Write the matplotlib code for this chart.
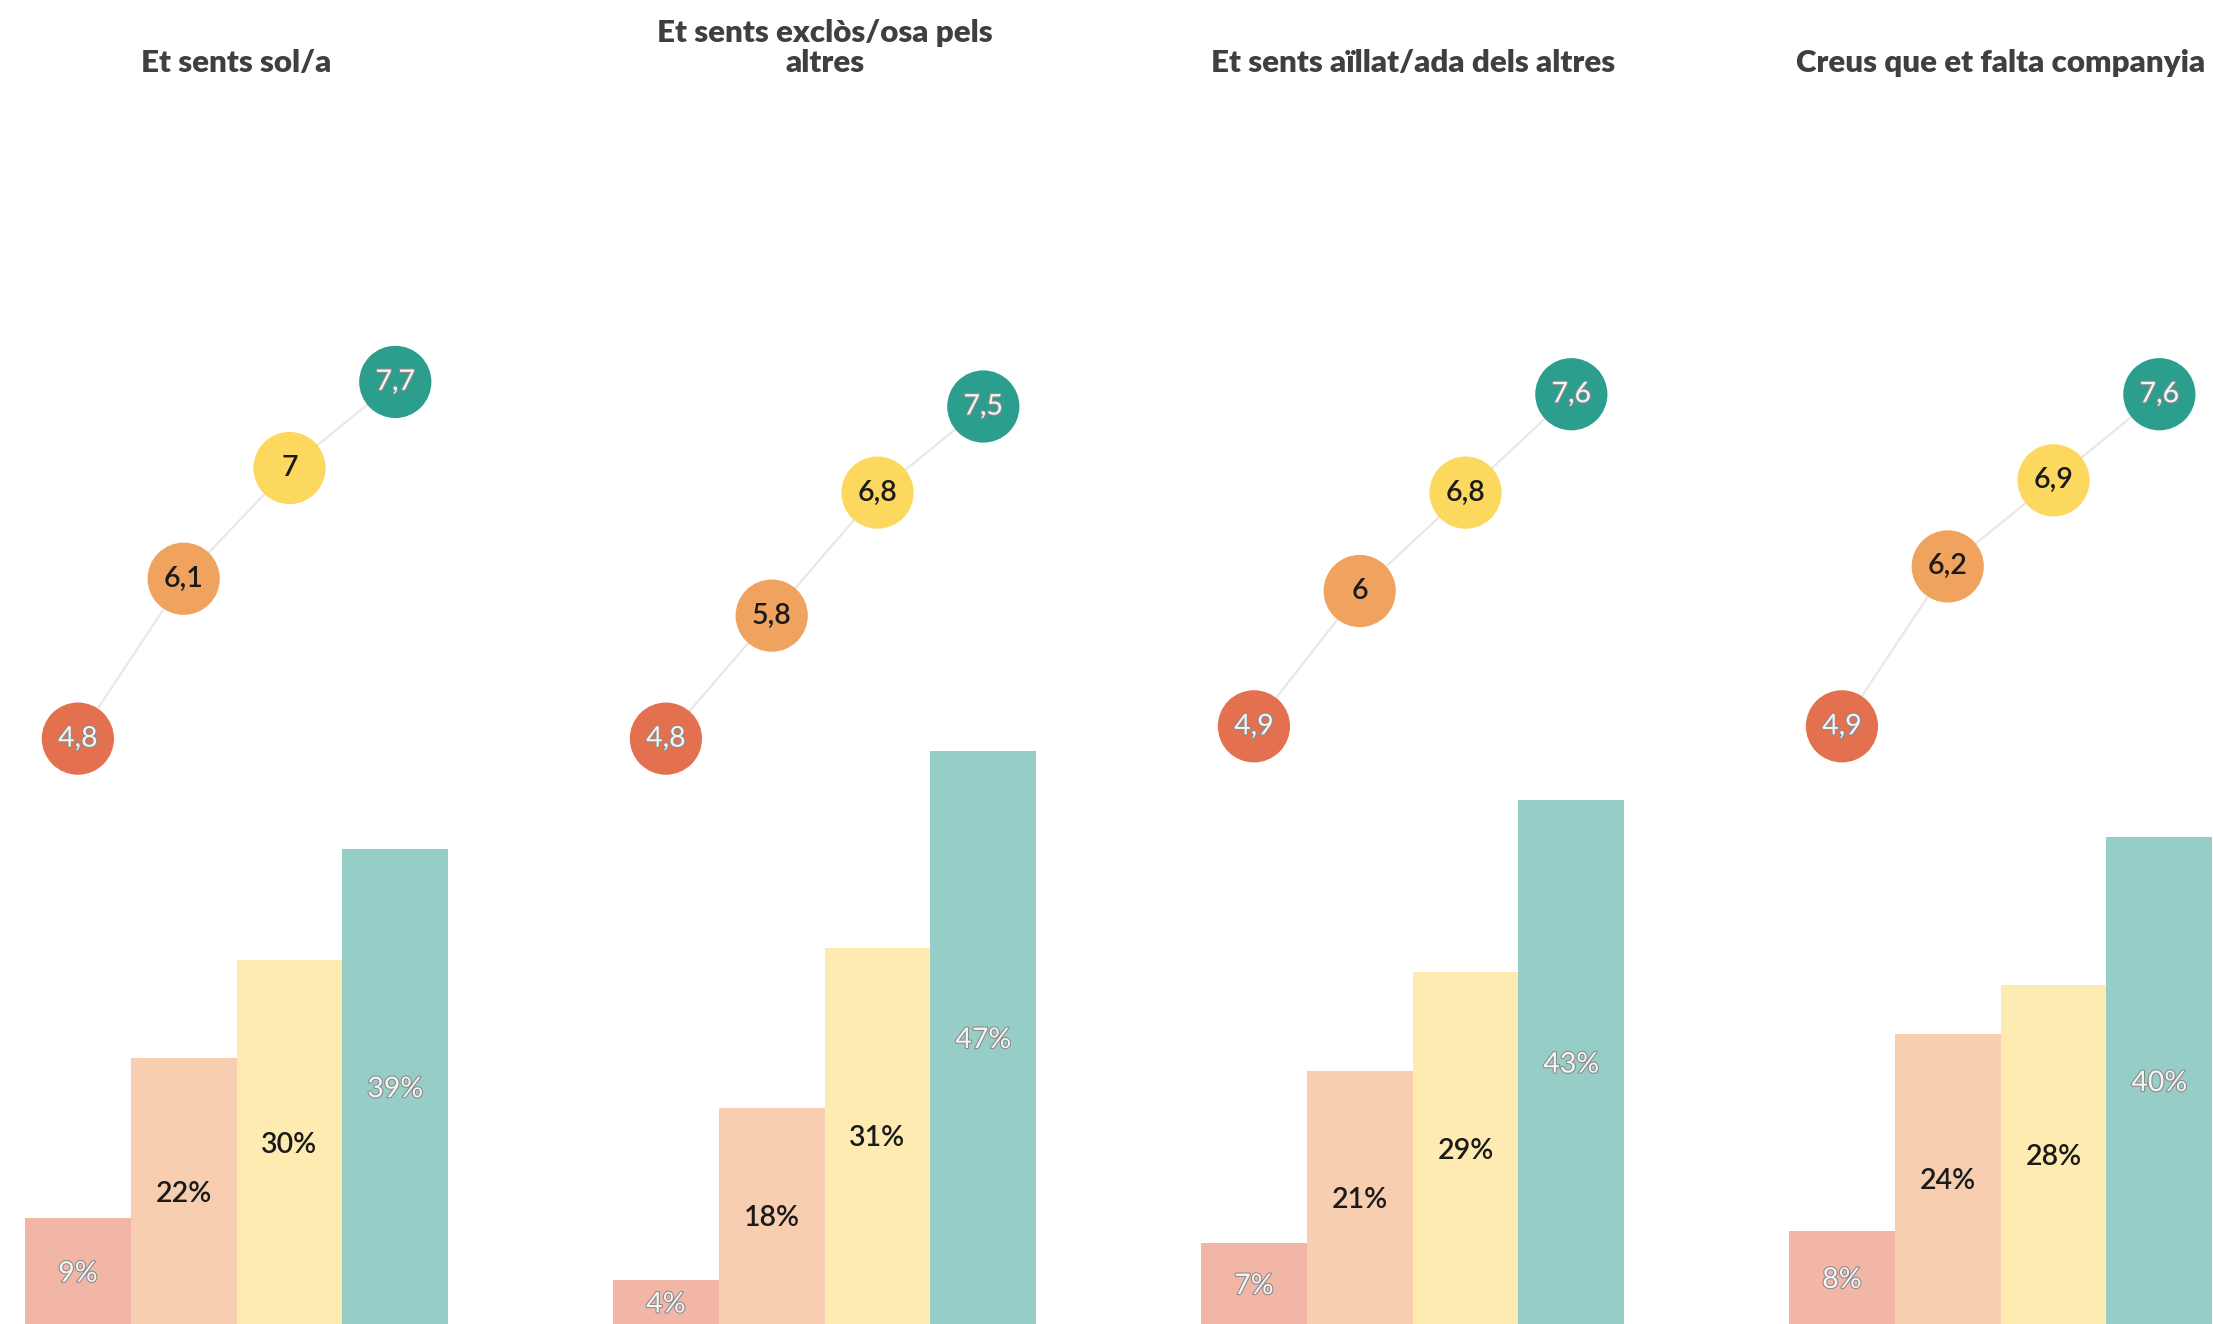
import numpy as np
import matplotlib.pyplot as plt
import matplotlib.patheffects as pe

plt.rcParams['font.family'] = ['Lato', 'DejaVu Sans']

TITLES = ["Et sents sol/a",
          "Et sents exclòs/osa pels\naltres",
          "Et sents aïllat/ada dels altres",
          "Creus que et falta companyia"]

# average score per group (circles)
SCORES = [[4.8, 6.1, 7.0, 7.7],
          [4.8, 5.8, 6.8, 7.5],
          [4.9, 6.0, 6.8, 7.6],
          [4.9, 6.2, 6.9, 7.6]]

# share of people per group (bars), %
SHARES = [[9, 22, 30, 39],
          [4, 18, 31, 47],
          [7, 21, 29, 43],
          [8, 24, 28, 40]]

DOT_COLORS = ['#e3704f', '#f0a25f', '#fdd85f', '#2b9e8e']
BAR_COLORS = ['#f2b6a7', '#f7ceb0', '#feebb1', '#96cdc6']
DARK_TEXT = [False, True, True, False]

PANEL_STEP = 588 / 105.8  # panel spacing in bar widths


def fmt_score(v):
    s = f"{v:.1f}".replace('.', ',')
    return s[:-2] if s.endswith(',0') else s


fig = plt.figure(figsize=(22.13, 13.24), dpi=100)
ax = fig.add_axes([0, 0, 1, 1])
ax.axis('off')
ax.set_xlim(-0.736, 20.18)
ax.set_ylim(0.41, 108.05)

light = dict(color='#f5f5f5', fontweight='normal',
             path_effects=[pe.withStroke(linewidth=1.6, foreground='#8c8c8c')])
dark = dict(color='#1a1a1a', fontweight='semibold')

for p in range(4):
    xs = p * PANEL_STEP + np.arange(4)
    ax.bar(xs, SHARES[p], width=1.0, color=BAR_COLORS, linewidth=0, zorder=1)
    for x, v, d in zip(xs, SHARES[p], DARK_TEXT):
        ax.text(x, v / 2, f"{v}%", ha='center', va='center', fontsize=20.5,
                zorder=4, **(dark if d else light))

    ys = [s * 10 for s in SCORES[p]]
    ax.plot(xs, ys, color='#e8e8e8', lw=1.6, zorder=2)
    ax.scatter(xs, ys, s=52 ** 2, c=DOT_COLORS, linewidths=0, zorder=3)
    for x, s, d in zip(xs, SCORES[p], DARK_TEXT):
        ax.text(x, s * 10, fmt_score(s), ha='center', va='center', fontsize=20.5,
                zorder=4, **(dark if d else light))

    ax.text(xs.mean(), 101.8, TITLES[p], ha='center', va='bottom', fontsize=22.5,
            fontweight='heavy', color='#3f3f3f', linespacing=1.1)

fig.savefig('out.png', dpi=100)
